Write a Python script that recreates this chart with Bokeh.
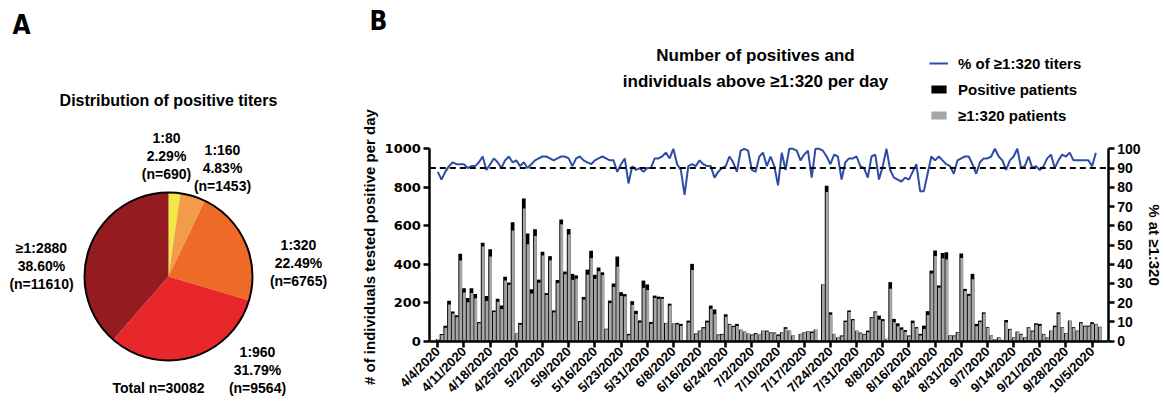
import math
import numpy as np
from bokeh.plotting import figure
from bokeh.models import (Range1d, LinearAxis, FixedTicker, Label, Legend, LegendItem,
                          ColumnDataSource)
from bokeh.embed import file_html
from bokeh.resources import INLINE
from bokeh.core.properties import value

# ---------------- Panel A data ----------------
titer_labels = ["1:80", "1:160", "1:320", "1:960", "≥1:2880"]
titer_counts = [690, 1453, 6765, 9564, 11610]
titer_pct_text = ["2.29%", "4.83%", "22.49%", "31.79%", "38.60%"]
titer_colors = ["#f1e843", "#f39b4a", "#ef6a26", "#e8272b", "#941b1f"]
total_text = "Total n=30082"

# ---------------- Panel B data ----------------
tick_dates = ["4/4/2020", "4/11/2020", "4/18/2020", "4/25/2020", "5/2/2020", "5/9/2020",
              "5/16/2020", "5/23/2020", "5/31/2020", "6/8/2020", "6/16/2020", "6/24/2020",
              "7/2/2020", "7/10/2020", "7/17/2020", "7/24/2020", "7/31/2020", "8/8/2020",
              "8/16/2020", "8/24/2020", "8/31/2020", "9/7/2020", "9/14/2020", "9/21/2020",
              "9/28/2020", "10/5/2020"]

positives = [12, 38, 80, 210, 155, 135, 455, 275, 225, 275,
             245, 100, 512, 235, 478, 160, 220, 185, 335, 305,
             618, 40, 95, 742, 560, 270, 582, 320, 465, 250,
             442, 160, 318, 633, 362, 583, 350, 342, 105, 230,
             372, 470, 345, 383, 358, 65, 211, 300, 440, 255,
             245, 38, 208, 158, 108, 315, 295, 100, 237, 232,
             230, 95, 195, 93, 95, 90, 4, 107, 402, 40,
             55, 73, 107, 185, 165, 35, 38, 140, 90, 80,
             90, 60, 50, 40, 35, 42, 35, 55, 55, 47,
             45, 35, 47, 73, 55, 30, 5, 38, 47, 52,
             50, 60, 5, 295, 808, 150, 38, 20, 30, 107,
             160, 115, 55, 45, 38, 55, 125, 155, 133, 115,
             12, 307, 116, 93, 72, 58, 30, 107, 73, 38,
             81, 156, 367, 471, 290, 458, 462, 30, 30, 47,
             456, 272, 246, 350, 90, 107, 150, 73, 30, 10,
             20, 7, 110, 64, 20, 50, 38, 20, 73, 55,
             93, 90, 38, 20, 55, 81, 150, 73, 42, 107,
             73, 55, 99, 81, 81, 99, 90, 75]

high_titer = [11, 32, 70, 191, 144, 124, 419, 253, 203, 250,
              223, 93, 492, 209, 440, 152, 205, 167, 315, 293,
              575, 38, 86, 690, 504, 248, 547, 304, 446, 240,
              420, 150, 302, 608, 348, 554, 319, 325, 101, 216,
              346, 432, 324, 364, 344, 62, 198, 282, 387, 235,
              233, 31, 189, 141, 97, 277, 266, 90, 225, 220,
              221, 93, 185, 93, 87, 80, 3, 97, 370, 36,
              52, 67, 97, 168, 140, 31, 34, 127, 86, 74,
              79, 59, 50, 40, 31, 37, 34, 54, 50, 45,
              41, 28, 46, 65, 55, 30, 5, 36, 46, 51,
              43, 60, 5, 292, 776, 138, 37, 19, 25, 100,
              152, 109, 53, 41, 34, 47, 120, 150, 112, 105,
              12, 273, 99, 78, 60, 49, 25, 94, 67, 30,
              63, 136, 352, 443, 278, 431, 425, 27, 26, 44,
              433, 261, 236, 322, 78, 100, 143, 69, 29, 10,
              19, 7, 98, 60, 19, 50, 34, 18, 70, 50,
              85, 80, 35, 19, 53, 73, 141, 71, 40, 105,
              69, 52, 93, 76, 76, 90, 88, 73]

pct_high = [88, 84, 88, 91, 93, 92, 92, 92, 90, 91,
            91, 93, 96, 89, 92, 95, 93, 90, 94, 96,
            93, 94, 91, 93, 90, 92, 94, 95, 96, 96,
            95, 94, 95, 96, 96, 95, 91, 95, 96, 94,
            93, 92, 94, 95, 96, 95, 94, 94, 88, 92,
            95, 82, 91, 89, 90, 88, 90, 90, 95, 95,
            96, 98, 95, 100, 92, 89, 76, 91, 92, 91,
            94, 92, 91, 91, 85, 88, 90, 91, 96, 93,
            88, 99, 100, 99, 89, 88, 96, 98, 91, 96,
            91, 81, 98, 89, 100, 100, 99, 94, 97, 99,
            85, 100, 100, 99, 96, 92, 97, 96, 84, 93,
            95, 95, 96, 91, 90, 85, 96, 97, 84, 91,
            100, 89, 85, 84, 83, 85, 84, 88, 92, 78,
            78, 87, 96, 94, 96, 94, 92, 91, 87, 94,
            95, 96, 96, 92, 87, 93, 95, 95, 96, 100,
            96, 94, 89, 94, 96, 100, 90, 91, 96, 90,
            91, 89, 91, 95, 97, 90, 94, 97, 96, 98,
            94, 94, 94, 94, 94, 91, 98, None]
threshold_pct = 90

# ---------------- styling ----------------
FONT = "Liberation Sans"
NUM_FONT = "DejaVu Sans"
PANEL_FONT = "Liberation Sans Narrow, DejaVu Sans Condensed, Liberation Sans"
BLUE = "#2d4ca6"
GREY = "#a6a6a8"

# ---------------- Panel A: pie (data coords = window pixels, y negated) ----------------
WA, HA = 336, 400
pA = figure(width=WA, height=HA, x_range=Range1d(0, WA), y_range=Range1d(-HA, 0),
            output_backend="svg", toolbar_location=None, min_border=0, title=None)
pA.axis.visible = False
pA.grid.visible = False
pA.outline_line_color = None
pA.styles = {"position": "absolute", "left": "0px", "top": "0px"}

cx, cy, rad = 168, -276, 84
counts = np.array(titer_counts, dtype=float)
cum = np.cumsum(counts) / counts.sum()
starts = np.pi / 2 - 2 * np.pi * np.concatenate([[0.0], cum[:-1]])
ends = np.pi / 2 - 2 * np.pi * cum
pie_src = ColumnDataSource(dict(start=starts, end=ends, color=titer_colors))
pA.wedge(x=cx, y=cy, radius=rad, start_angle="start", end_angle="end", direction="clock",
         fill_color="color", line_color=None, source=pie_src)
pA.circle(x=cx, y=cy, radius=rad, fill_color=None, line_color="black", line_width=2)

label_anchor = [(166, 137), (222, 149), (298, 244), (257, 351), (41, 247)]
lx, ly, lt = [], [], []
for (ax, ay), lab, pct, n in zip(label_anchor, titer_labels, titer_pct_text, titer_counts):
    for k, t in enumerate([lab, pct, "(n=%d)" % n]):
        lx.append(ax)
        ly.append(-(ay + 18 * k))
        lt.append(t)
lx.append(158); ly.append(-387); lt.append(total_text)
pA.text(x=lx, y=ly, text=lt, text_font=value(FONT), text_font_style="bold",
        text_font_size="14px", text_align="center", text_baseline="middle", text_color="black")
pA.text(x=[168], y=[-100], text=["Distribution of positive titers"], text_font=value(FONT),
        text_font_style="bold", text_font_size="16px", text_align="center",
        text_baseline="middle", text_color="black")
pA.text(x=[21], y=[-24], text=["A"], text_font=value(PANEL_FONT), text_font_style="bold",
        text_font_size="26px", text_align="center", text_baseline="middle", text_color="black")

# ---------------- Panel B: bars + line ----------------
XB = 336                      # window x of panel B canvas
WB, HB = 826, 402
TICK0_X, PX_PER_DAY = 437.3, 3.739      # window x of first category and spacing
ZERO_Y, Y1000_Y = 340.7, 148.3           # window y of value 0 and of value 1000
UPP = 1000.0 / (ZERO_Y - Y1000_Y)        # data units per pixel (vertical)


def bx(xw):
    return (xw - TICK0_X) / PX_PER_DAY


def by(yw):
    return (ZERO_Y - yw) * UPP


X0, X1 = bx(XB), bx(XB + WB)
Y0, Y1 = by(HB), by(0)
AX_L, AX_R = bx(429.3), bx(1107.7)       # positions of the two y axes (frame edges)

pB = figure(width=WB, height=HB, x_range=Range1d(X0, X1), y_range=Range1d(Y0, Y1),
            output_backend="svg", toolbar_location=None, title=None, min_border=0)
pB.extra_y_ranges = {"pct": Range1d(Y0 / 10.0, Y1 / 10.0)}
pB.grid.visible = False
pB.outline_line_color = None
pB.styles = {"position": "absolute", "left": "%dpx" % XB, "top": "0px"}

idx = np.arange(len(positives))
src = ColumnDataSource(dict(x=idx, xg=idx + 0.125, pos=positives, hi=high_titer,
                            pct=np.array(pct_high, dtype=float)))
r_pos = pB.vbar(x="x", top="pos", width=1.0, fill_color="black", line_color=None, source=src)
r_hi = pB.vbar(x="xg", top="hi", width=0.75, fill_color=GREY, line_color=None, source=src)
r_pct = pB.line(x="x", y="pct", y_range_name="pct", line_color=BLUE, line_width=2, source=src)
pB.line(x=[AX_L, AX_R], y=[threshold_pct, threshold_pct], y_range_name="pct",
        line_color="black", line_dash="6 4", line_width=2)

# axes drawn at fixed data locations (they take no border space)
ax_left = pB.yaxis[0]
ax_left.fixed_location = AX_L
ax_left.ticker = FixedTicker(ticks=[0, 200, 400, 600, 800, 1000])
ax_left.bounds = (0, 1000)
ax_left.axis_label = "# of  individuals tested positive per day"
ax_right = LinearAxis(y_range_name="pct", ticker=FixedTicker(ticks=list(range(0, 101, 10))),
                      bounds=(0, 100), axis_label="% at ≥1:320", fixed_location=AX_R)
pB.add_layout(ax_right, "right")
ax_x = pB.xaxis[0]
ax_x.fixed_location = 0
ax_x.bounds = (AX_L, AX_R)
ax_x.ticker = FixedTicker(ticks=[7 * k for k in range(len(tick_dates))])
ax_x.major_label_overrides = {7 * k: d for k, d in enumerate(tick_dates)}
ax_x.major_label_orientation = math.pi / 4
ax_x.major_label_text_font = FONT
ax_x.major_label_text_font_size = "13px"
ax_x.major_label_standoff = 2

for ax in (ax_left, ax_right, ax_x):
    ax.axis_line_width = 2.5
    ax.axis_line_color = "black"
    ax.major_tick_line_width = 2.5
    ax.major_tick_line_color = "black"
    ax.major_tick_out = 6
    ax.major_tick_in = 0
    ax.minor_tick_line_color = None
    ax.major_label_text_font_style = "bold"
    ax.major_label_text_color = "black"
for ax in (ax_left, ax_right):
    ax.axis_label_text_font = FONT
    ax.axis_label_text_font_style = "bold"
    ax.axis_label_text_color = "black"
ax_left.major_label_text_font = NUM_FONT
ax_left.major_label_text_font_size = "13px"
ax_left.major_label_standoff = 3
ax_left.axis_label_text_font_size = "15px"
ax_left.axis_label_standoff = 3
ax_right.major_label_text_font = FONT
ax_right.major_label_text_font_size = "14px"
ax_right.major_label_standoff = 3
ax_right.axis_label_text_font_size = "15px"
ax_right.axis_label_standoff = 2

# legend (frame covers the whole canvas; location relative to its bottom-left)
legend = Legend(items=[LegendItem(label="% of ≥1:320 titers", renderers=[r_pct]),
                       LegendItem(label="Positive patients", renderers=[r_pos]),
                       LegendItem(label="≥1:320 patients", renderers=[r_hi])],
                location=(929 - XB, HB - 125),
                background_fill_alpha=0, border_line_color=None, padding=0, margin=0,
                spacing=6, glyph_width=19, glyph_height=10, label_height=20,
                label_standoff=10, label_text_font=FONT, label_text_font_style="bold",
                label_text_font_size="15px", label_text_color="black")
pB.add_layout(legend)

# titles
for txt, xw, yw, size, font in [("Number of positives and", 755, 55, "17px", FONT),
                                ("individuals above ≥1:320 per day", 755, 81, "17px", FONT),
                                ("B", 378, 20, "26px", PANEL_FONT)]:
    pB.add_layout(Label(x=bx(xw), y=by(yw), text=txt, text_align="center", text_baseline="middle",
                        text_font=font, text_font_style="bold", text_font_size=size,
                        text_color="black"))

open("out.html", "w").write(file_html([pA, pB], INLINE))
